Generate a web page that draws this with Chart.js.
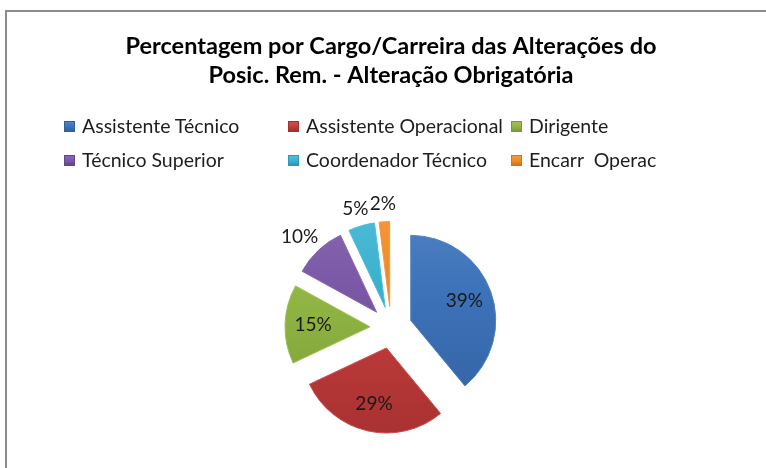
<!DOCTYPE html>
<html><head><meta charset="utf-8">
<script src="https://cdn.jsdelivr.net/npm/chart.js@4/dist/chart.umd.min.js"></script>
<style>
html,body{margin:0;padding:0;background:#fff;overflow:hidden;width:766px;height:468px}
#frame{position:absolute;left:5px;top:10px;width:768px;height:470px;border:2px solid #8c8c8c;background:#fff;overflow:hidden}
#c{position:absolute;left:0;top:0}
#legend{position:absolute;left:0;top:0;width:768px;height:0;font-family:Lato,"Open Sans",sans-serif;font-size:19.5px;color:#1e1e1e}
.item{position:absolute;white-space:pre;line-height:22px;height:22px;display:flex;align-items:center}
.box{display:inline-block;width:11px;height:11px;margin-right:7px;box-sizing:border-box}
</style>
</head><body>
<div id="frame"><canvas id="c" width="768" height="470"></canvas><div id="legend"></div></div>
<script>
// ---- data ----
const categories = ["Assistente Técnico","Assistente Operacional","Dirigente","Técnico Superior","Coordenador Técnico","Encarr  Operac"];
const percentValues = [39, 29, 15, 10, 5, 2];
const titleLines = ["Percentagem por Cargo/Carreira das Alterações do","Posic. Rem. - Alteração Obrigatória"];

// ---- style ----
const baseColors = ["#3D71B8","#BF3B3A","#8FB443","#7A58A5","#3BB1CE","#F08A24"];
const lightColors = ["#4F82C4","#CC4F4D","#9DC055","#8867B2","#52BDD8","#F59A40"];
const darkColors = ["#30609F","#A32F2F","#789A35","#64468C","#2E97B2","#D2741A"];
const EXPLODE = 21;

// legend (HTML, real text)
const legendEl = document.getElementById('legend');
const colX = [57, 281, 504];
const rowY = [103, 137];
categories.forEach((name, i) => {
  const it = document.createElement('div');
  it.className = 'item';
  it.style.left = colX[i % 3] + 'px';
  it.style.top = rowY[Math.floor(i / 3)] + 'px';
  const b = document.createElement('span');
  b.className = 'box';
  b.style.background = `linear-gradient(180deg, ${lightColors[i]} 0%, ${baseColors[i]} 55%, ${darkColors[i]} 100%)`;
  b.style.border = '1px solid ' + darkColors[i];
  it.appendChild(b);
  it.appendChild(document.createTextNode(name));
  legendEl.appendChild(it);
});

const explodePlugin = {
  id: 'explode',
  beforeDatasetDraw(chart, args) {
    const ctx = chart.ctx;
    args.meta.data.forEach((arc) => {
      const mid = (arc.startAngle + arc.endAngle) / 2;
      ctx.save();
      ctx.translate(Math.cos(mid) * EXPLODE, Math.sin(mid) * EXPLODE);
      arc.draw(ctx);
      ctx.restore();
    });
    return false;
  }
};

const labelPlugin = {
  id: 'pieLabels',
  afterDatasetsDraw(chart) {
    const ctx = chart.ctx;
    const meta = chart.getDatasetMeta(0);
    ctx.save();
    ctx.font = '19px Lato, "Open Sans", sans-serif';
    ctx.fillStyle = '#1a1a1a';
    ctx.textAlign = 'center';
    ctx.textBaseline = 'middle';
    meta.data.forEach((arc, i) => {
      const v = chart.data.datasets[0].data[i];
      const mid = (arc.startAngle + arc.endAngle) / 2;
      const dx = Math.cos(mid), dy = Math.sin(mid);
      const tx = arc.x + dx * EXPLODE, ty = arc.y + dy * EXPLODE;
      const r = arc.outerRadius;
      const txt = v + '%';
      let x, y;
      if (v >= 12) {
        x = tx + dx * r * 0.67; y = ty + dy * r * 0.67;
      } else {
        const w = ctx.measureText(txt).width, h = 18;
        x = tx + dx * (r + 9) + dx * w / 2;
        y = ty + dy * (r + 9) + dy * h / 2;
      }
      ctx.fillText(txt, x, y);
    });
    ctx.restore();
  }
};

function sliceFill(ctx) {
  const i = ctx.dataIndex;
  const ca = ctx.chart.chartArea;
  if (!ca) return baseColors[i];
  const g = ctx.chart.ctx.createLinearGradient(0, ca.top - 30, 0, ca.bottom + 30);
  g.addColorStop(0, lightColors[i]);
  g.addColorStop(0.4, baseColors[i]);
  g.addColorStop(1, darkColors[i]);
  return g;
}

new Chart(document.getElementById('c'), {
  type: 'pie',
  data: {
    labels: categories,
    datasets: [{
      data: percentValues,
      backgroundColor: sliceFill,
      borderColor: lightColors,
      borderWidth: 1
    }]
  },
  options: {
    responsive: false,
    animation: false,
    devicePixelRatio: 1,
    layout: { padding: { top: 0, bottom: 69, left: 0, right: 0 } },
    plugins: {
      legend: { display: false },
      tooltip: { enabled: false },
      title: {
        display: true,
        text: titleLines,
        color: '#000',
        font: { family: 'Lato, "Open Sans", sans-serif', size: 23.5, weight: 'bold', lineHeight: 1.234 },
        padding: { top: 20, bottom: 152 }
      }
    }
  },
  plugins: [explodePlugin, labelPlugin]
});
</script>
</body></html>
